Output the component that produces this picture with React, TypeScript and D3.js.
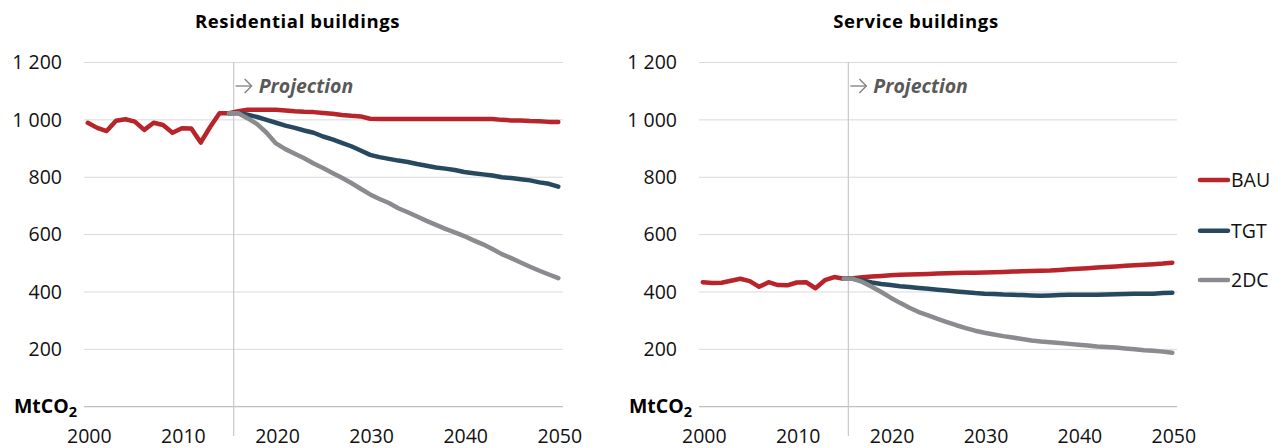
import React from "react";
import * as d3 from "d3";

const years = d3.range(2000, 2051);
const projYears = d3.range(2015, 2051);
const xTickYears = [2000, 2010, 2020, 2030, 2040, 2050];
const yTicks = [200, 400, 600, 800, 1000, 1200];
const seriesNames = ["BAU", "TGT", "2DC"];
const seriesColors = ["#B8242A", "#27495F", "#8A8B8E"];

// Residential buildings (MtCO2)
const resBAU = [
  990, 972, 961, 997, 1002, 994, 965, 990, 982, 955, 971, 970, 921, 975, 1023, 1023,
  1030, 1035, 1035, 1035, 1035, 1033, 1030, 1028, 1027, 1024, 1021, 1017, 1014, 1012, 1004,
  1003, 1003, 1003, 1003, 1003, 1003, 1003, 1003, 1003, 1003, 1003, 1003, 1003,
  1000, 998, 998, 996, 995, 993, 993,
];
const resTGT = [
  1023, 1023, 1018, 1010, 1000, 990, 980, 972, 963, 955, 942, 932, 920, 908, 893, 878,
  870, 864, 858, 853, 846, 840, 834, 830, 825, 818, 814, 810, 806, 800, 797, 793, 789, 782, 777, 767,
];
const res2DC = [
  1023, 1023, 1005, 985, 955, 918, 898, 882, 866, 848, 832, 815, 798, 780, 760, 740,
  724, 710, 692, 678, 663, 648, 634, 620, 608, 595, 580, 566, 550, 532, 518, 503, 488, 474, 461, 448,
];

// Service buildings (MtCO2)
const serBAU = [
  434, 431, 432, 439, 446, 438, 418, 434, 424, 423, 433, 434, 413, 441, 452, 446,
  448, 451, 454, 456, 458, 460, 461, 462, 463, 464, 465, 466, 467, 467, 468,
  469, 470, 471, 472, 473, 474, 475, 477, 479, 481, 483, 485, 487, 489, 491, 493, 495, 497, 499, 502,
];
const serTGT = [
  446, 446, 440, 433, 428, 424, 420, 417, 414, 411, 408, 405, 402, 399, 396, 394,
  393, 391, 390, 389, 388, 387, 388, 389, 390, 390, 390, 390, 391, 392, 393, 394, 394, 394, 396, 397,
];
const ser2DC = [
  446, 446, 435, 418, 400, 380, 362, 345, 330, 318, 306, 295, 284, 274, 265, 258,
  252, 246, 241, 236, 231, 227, 225, 222, 219, 216, 213, 210, 208, 206, 203, 200, 197, 195, 192, 188,
];

const FONT = "'Open Sans', 'Noto Sans', sans-serif";

type PanelProps = {
  title: string;
  titleX: number;
  left: number;
  right: number;
  bau: number[];
  tgt: number[];
  dc: number[];
};

const yScale = d3.scaleLinear().domain([0, 1200]).range([406.7, 62.5]);

function Panel({ title, titleX, left, right, bau, tgt, dc }: PanelProps) {
  const x = d3.scaleLinear().domain([2000, 2050]).range([left + 3.8, right - 4.7]);
  const line = d3
    .line<[number, number]>()
    .x((d) => x(d[0]))
    .y((d) => yScale(d[1]));
  const bauPts = years.map((yr, i) => [yr, bau[i]] as [number, number]);
  const tgtPts = projYears.map((yr, i) => [yr, tgt[i]] as [number, number]);
  const dcPts = projYears.map((yr, i) => [yr, dc[i]] as [number, number]);
  const vx = x(2015.5);
  return (
    <g>
      <text x={titleX} y={28} textAnchor="middle" fontFamily={FONT} fontWeight="bold" fontSize={18.5} letterSpacing={0.6} fill="#000">
        {title}
      </text>
      {yTicks.map((t) => (
        <g key={t}>
          <line x1={left} x2={right} y1={yScale(t)} y2={yScale(t)} stroke="#D9D9D9" strokeWidth={1} />
          <text x={left - 22} y={yScale(t)} dy="0.35em" textAnchor="end" fontFamily={FONT} fontSize={19.5} fill="#111">
            {d3.format(",")(t).replace(",", " ")}
          </text>
        </g>
      ))}
      <line x1={left} x2={right} y1={yScale(0)} y2={yScale(0)} stroke="#BFBFBF" strokeWidth={1.3} />
      <text x={left - 7} y={413.3} textAnchor="end" fontFamily={FONT} fontWeight="bold" fontSize={19.5} fill="#000">
        MtCO<tspan fontSize={14.5} dy={4}>2</tspan>
      </text>
      {xTickYears.map((t) => (
        <text key={t} x={x(t) + 1.5} y={442.5} textAnchor="middle" fontFamily={FONT} fontSize={19.5} fill="#111">
          {t}
        </text>
      ))}
      <line x1={vx} x2={vx} y1={62} y2={436} stroke="#C8C8C8" strokeWidth={1.2} />
      <g stroke="#7F7F7F" strokeWidth={1.3} fill="none">
        <line x1={vx + 2} x2={vx + 18} y1={86} y2={86} />
        <polyline points={`${vx + 11},${79} ${vx + 18},${86} ${vx + 11},${93}`} />
      </g>
      <text x={vx + 25} y={93.3} fontFamily={FONT} fontWeight="bold" fontStyle="italic" fontSize={19.5} fill="#595959">
        Projection
      </text>
      <path d={line(bauPts) || ""} fill="none" stroke={seriesColors[0]} strokeWidth={4.5} strokeLinecap="round" strokeLinejoin="round" />
      <path d={line(tgtPts) || ""} fill="none" stroke={seriesColors[1]} strokeWidth={4.5} strokeLinecap="round" strokeLinejoin="round" />
      <path d={line(dcPts) || ""} fill="none" stroke={seriesColors[2]} strokeWidth={4.5} strokeLinecap="round" strokeLinejoin="round" />
    </g>
  );
}

const legendY = [180, 230.7, 280];

export default function App() {
  return (
    <svg width={1279} height={448} style={{ position: "absolute", left: 0, top: 0, background: "#fff" }}>
      <rect x={0} y={0} width={1279} height={448} fill="#fff" />
      <Panel title="Residential buildings" titleX={297.5} left={84} right={563} bau={resBAU} tgt={resTGT} dc={res2DC} />
      <Panel title="Service buildings" titleX={916} left={699} right={1177} bau={serBAU} tgt={serTGT} dc={ser2DC} />
      {seriesNames.map((name, i) => (
        <g key={name}>
          <line x1={1200} x2={1228} y1={legendY[i]} y2={legendY[i]} stroke={seriesColors[i]} strokeWidth={4.5} strokeLinecap="round" />
          <text x={1231} y={legendY[i]} dy="0.36em" fontFamily={FONT} fontSize={19.5} fill="#111">
            {name}
          </text>
        </g>
      ))}
    </svg>
  );
}
